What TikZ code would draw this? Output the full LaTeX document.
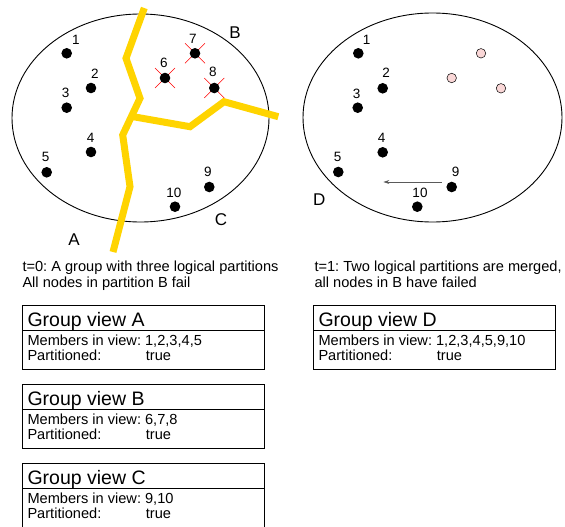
\documentclass[tikz,border=0pt]{standalone}
\usepackage{fontspec}
\setmainfont{Liberation Sans}
\usetikzlibrary{arrows.meta,calc}
\frenchspacing
\definecolor{cutyellow}{RGB}{255,212,0}
\definecolor{ghostpink}{RGB}{250,215,215}
\definecolor{movegray}{RGB}{90,90,90}
\tikzset{
  dot/.style={circle,fill=black,inner sep=0pt,minimum size=10.6pt},
  ghost/.style={circle,fill=ghostpink,draw=black,line width=0.5pt,inner sep=0pt,minimum size=9.5pt},
  num/.style={inner sep=0pt,font=\fontsize{13.5}{15}\selectfont},
  part/.style={inner sep=0pt,font=\fontsize{17}{19}\selectfont},
  txt/.style={inner sep=0pt,anchor=base west,font=\fontsize{14.6}{17}\selectfont},
  ttl/.style={inner sep=0pt,anchor=base west,font=\fontsize{19.5}{22}\selectfont},
  cut/.style={draw=cutyellow,line width=7pt},
  fail/.style={draw=red,line width=0.6pt},
  frame/.style={draw=black,line width=0.9pt},
}
% red cross marking a failed member, drawn before the member's dot
\newcommand{\failmark}[1]{%
  \draw[fail] ($#1+(-10,-10)$) -- ($#1+(10,10)$);
  \draw[fail] ($#1+(-10,10)$) -- ($#1+(10,-10)$);}
\newcommand{\viewbox}[6]{%
  % #1 left, #2 top, #3 right, #4 title, #5 members, #6 name
  \draw[frame] (#1,#2) rectangle (#3,#2+64.3);
  \draw[frame] (#1,#2+25) -- (#3,#2+25);
  \node[ttl] (#6t) at (#1+5,#2+21) {#4};
  \node[txt] (#6m) at (#1+5,#2+40) {Members in view: #5};
  \node[txt] (#6p) at (#1+5,#2+55) {Partitioned:};
  \node[txt] (#6v) at (#1+123.4,#2+55) {true};}
\begin{document}
\begin{tikzpicture}[x=1pt,y=-1pt]
\useasboundingbox (0,0) rectangle (565,527);
\fill[white] (0,0) rectangle (565,527);

% ---------- t = 0 ----------
\draw[black,line width=0.9pt] (140.5,118) ellipse [x radius=128.5, y radius=104];

% partition boundaries
\draw[cut] (144.3,8) -- (126,58.3) -- (140,98.3) -- (122.7,135) -- (130,186.7) -- (113,252);
\draw[cut] (133.3,116.7) -- (190,126.7) -- (224,101.7) -- (278.3,116.7);

\failmark{(165,78)}
\failmark{(195,53.3)}
\failmark{(214.3,88)}

\node[dot] (l1) at (66.7,53.3) {};
\node[dot] (l2) at (91,88) {};
\node[dot] (l3) at (66.7,107.7) {};
\node[dot] (l4) at (91,152) {};
\node[dot] (l5) at (46.7,172.3) {};
\node[dot] (l6) at (165,78) {};
\node[dot] (l7) at (195,53.3) {};
\node[dot] (l8) at (214.3,88) {};
\node[dot] (l9) at (209.3,187) {};
\node[dot] (l10) at (175,206.7) {};

\node[num] (n1) at (76,39.5) {1};
\node[num] (n2) at (95,73.5) {2};
\node[num] (n3) at (65.7,93) {3};
\node[num] (n4) at (90.7,137.5) {4};
\node[num] (n5) at (45.7,157) {5};
\node[num] (n6) at (164,63) {6};
\node[num] (n7) at (193,38.5) {7};
\node[num] (n8) at (213,72) {8};
\node[num] (n9) at (208,172) {9};
\node[num] (n10) at (174,192.5) {10};

\node[part] (pA) at (74,240) {A};
\node[part] (pB) at (235,32.7) {B};
\node[part] (pC) at (221,220) {C};

% ---------- t = 1 ----------
\draw[black,line width=0.9pt] (432.5,117.5) ellipse [x radius=129.5, y radius=104.5];

\node[dot] (r1) at (358.3,53.3) {};
\node[dot] (r2) at (382.7,88.3) {};
\node[dot] (r3) at (357.7,107.7) {};
\node[dot] (r4) at (382.7,152.3) {};
\node[dot] (r5) at (338.3,172) {};
\node[dot] (r9) at (451.7,187) {};
\node[dot] (r10) at (417.3,206.7) {};

\node[ghost] (g7) at (481,53.3) {};
\node[ghost] (g6) at (451.7,78) {};
\node[ghost] (g8) at (501,88.3) {};

\node[num] (m1) at (366.7,40) {1};
\node[num] (m2) at (386,73) {2};
\node[num] (m3) at (356.7,93.5) {3};
\node[num] (m4) at (381.7,137.5) {4};
\node[num] (m5) at (337.7,156.5) {5};
\node[num] (m9) at (455.7,172) {9};
\node[num] (m10) at (420,192.5) {10};

\node[part] (pD) at (319.3,200) {D};

\coordinate (mvS) at (441.7,182);
\coordinate (mvE) at (383.3,182);
\draw[movegray,line width=0.8pt,-{Stealth[length=6pt,width=4pt]}] (mvS) -- (mvE);

% ---------- captions ----------
\node[txt] (cap0a) at (22.3,271.7) {t=0: A group with three logical partitions};
\node[txt] (cap0b) at (22.3,287.7) {All nodes in partition B fail};
\node[txt] (cap1a) at (314.3,271.7) {t=1: Two logical partitions are merged,};
\node[txt] (cap1b) at (314.3,287.7) {all nodes in B have failed};

% ---------- group views ----------
\viewbox{22.3}{305}{264.3}{Group view A}{1,2,3,4,5}{vA}
\viewbox{22.3}{384.3}{264.3}{Group view B}{6,7,8}{vB}
\viewbox{313.3}{305}{555.7}{Group view D}{1,2,3,4,5,9,10}{vD}
% last view runs past the lower edge
\draw[frame] (22.3,540) -- (22.3,463.3) -- (264.3,463.3) -- (264.3,540);
\draw[frame] (22.3,488.3) -- (264.3,488.3);
\node[ttl] (vCt) at (27.3,484.3) {Group view C};
\node[txt] (vCm) at (27.3,503.3) {Members in view: 9,10};
\node[txt] (vCp) at (27.3,518.3) {Partitioned:};
\node[txt] (vCv) at (145.7,518.3) {true};
\end{tikzpicture}
\end{document}
